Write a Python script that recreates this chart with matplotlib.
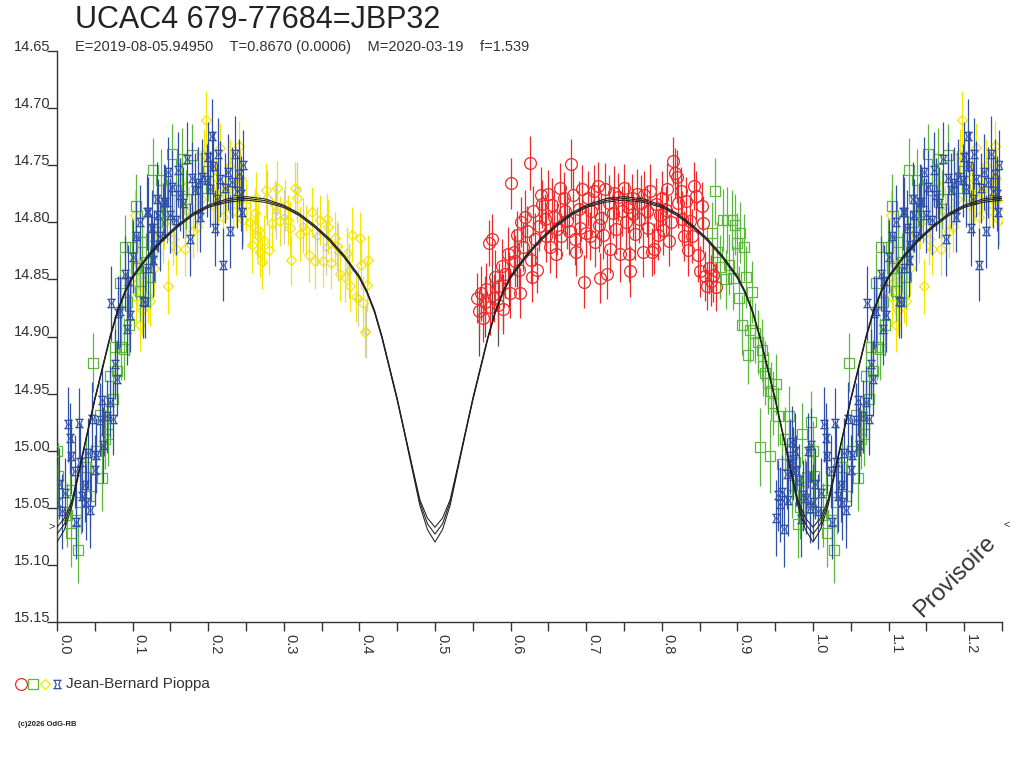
import numpy as np
import matplotlib
matplotlib.use("Agg")
import matplotlib.pyplot as plt
from matplotlib.path import Path
from matplotlib.lines import Line2D

plt.rcParams['font.family'] = ['Liberation Sans', 'DejaVu Sans']

# ---------------- data (phase, magnitude, error) ----------------
red = [
(0.556,14.866,0.022),(0.558,14.878,0.020),(0.561,14.862,0.024),(0.563,14.884,0.021),(0.566,14.870,0.023),
(0.568,14.858,0.022),(0.571,14.818,0.020),(0.573,14.874,0.025),(0.575,14.815,0.022),(0.578,14.866,0.021),
(0.580,14.848,0.024),(0.583,14.872,0.022),(0.585,14.856,0.020),(0.588,14.838,0.023),(0.590,14.876,0.022),
(0.593,14.845,0.021),(0.596,14.828,0.024),(0.599,14.862,0.022),(0.601,14.766,0.022),(0.604,14.826,0.020),
(0.606,14.834,0.023),(0.609,14.811,0.021),(0.611,14.842,0.024),(0.612,14.862,0.022),(0.614,14.800,0.022),
(0.617,14.822,0.021),(0.619,14.795,0.023),(0.622,14.808,0.022),(0.625,14.748,0.024),(0.627,14.833,0.021),
(0.628,14.848,0.022),(0.630,14.790,0.022),(0.632,14.815,0.023),(0.635,14.842,0.020),(0.637,14.803,0.022),
(0.640,14.776,0.024),(0.642,14.784,0.021),(0.645,14.797,0.022),(0.647,14.812,0.023),(0.650,14.775,0.021),
(0.652,14.822,0.022),(0.655,14.785,0.024),(0.658,14.795,0.022),(0.660,14.828,0.021),(0.662,14.806,0.023),
(0.665,14.770,0.022),(0.667,14.812,0.020),(0.670,14.779,0.023),(0.672,14.790,0.022),(0.675,14.799,0.024),
(0.677,14.808,0.021),(0.680,14.749,0.022),(0.682,14.776,0.023),(0.685,14.815,0.022),(0.687,14.826,0.021),
(0.690,14.788,0.024),(0.692,14.805,0.022),(0.695,14.771,0.021),(0.697,14.852,0.023),(0.700,14.809,0.022),
(0.702,14.779,0.024),(0.705,14.812,0.021),(0.707,14.790,0.022),(0.710,14.773,0.023),(0.712,14.817,0.022),
(0.715,14.768,0.021),(0.717,14.802,0.024),(0.718,14.849,0.022),(0.720,14.796,0.022),(0.722,14.811,0.021),
(0.725,14.771,0.023),(0.727,14.845,0.022),(0.730,14.783,0.024),(0.732,14.823,0.021),(0.735,14.792,0.022),
(0.737,14.774,0.023),(0.740,14.806,0.022),(0.742,14.778,0.021),(0.745,14.828,0.024),(0.747,14.790,0.022),
(0.750,14.770,0.021),(0.752,14.800,0.023),(0.755,14.787,0.022),(0.757,14.828,0.024),(0.758,14.843,0.022),
(0.760,14.779,0.021),(0.762,14.793,0.022),(0.765,14.810,0.023),(0.767,14.775,0.022),(0.770,14.797,0.021),
(0.772,14.783,0.024),(0.775,14.826,0.022),(0.777,14.776,0.021),(0.780,14.790,0.023),(0.782,14.805,0.022),
(0.785,14.773,0.024),(0.787,14.826,0.021),(0.790,14.823,0.022),(0.792,14.784,0.023),(0.795,14.811,0.022),
(0.797,14.794,0.021),(0.800,14.779,0.024),(0.802,14.807,0.022),(0.805,14.789,0.021),(0.807,14.771,0.023),
(0.810,14.816,0.022),(0.812,14.800,0.024),(0.815,14.746,0.021),(0.817,14.757,0.022),(0.820,14.760,0.023),
(0.822,14.783,0.022),(0.825,14.773,0.021),(0.827,14.797,0.024),(0.830,14.812,0.022),(0.832,14.781,0.021),
(0.835,14.824,0.023),(0.837,14.799,0.022),(0.840,14.812,0.024),(0.843,14.768,0.021),(0.845,14.777,0.022),
(0.848,14.829,0.023),(0.850,14.843,0.022),(0.853,14.786,0.021),(0.855,14.801,0.024),(0.857,14.847,0.022),
(0.860,14.856,0.021),(0.862,14.840,0.023),(0.865,14.851,0.022),(0.868,14.846,0.024),(0.872,14.857,0.021),
]

green = [
(0.000,15.000,0.026),(0.001,15.022,0.029),(0.013,15.056,0.028),(0.017,15.034,0.026),(0.019,15.072,0.030),
(0.025,15.061,0.027),(0.028,15.087,0.029),(0.032,15.045,0.028),(0.039,15.014,0.026),(0.044,15.040,0.029),
(0.048,14.923,0.026),(0.052,15.000,0.028),(0.057,14.969,0.027),(0.059,15.024,0.029),(0.063,14.990,0.026),
(0.068,14.985,0.028),(0.070,14.935,0.027),(0.074,14.955,0.026),(0.077,14.909,0.028),(0.080,14.930,0.027),
(0.083,14.853,0.026),(0.085,14.909,0.029),(0.088,14.911,0.027),(0.090,14.822,0.028),(0.092,14.870,0.026),
(0.095,14.890,0.027),(0.099,14.822,0.026),(0.104,14.786,0.028),(0.105,14.840,0.027),(0.110,14.860,0.026),
(0.112,14.817,0.028),(0.118,14.835,0.026),(0.123,14.848,0.027),(0.127,14.754,0.028),(0.132,14.800,0.026),
(0.138,14.763,0.027),(0.145,14.790,0.028),(0.152,14.740,0.026),(0.158,14.772,0.027),(0.165,14.745,0.028),
(0.170,14.780,0.026),(0.178,14.741,0.027),(0.190,14.770,0.028),(0.200,14.755,0.026),
(0.867,14.809,0.027),(0.870,14.773,0.029),(0.873,14.826,0.026),(0.877,14.839,0.028),(0.881,14.798,0.027),
(0.885,14.850,0.026),(0.886,14.798,0.029),(0.889,14.837,0.027),(0.893,14.798,0.026),(0.894,14.849,0.028),
(0.897,14.802,0.027),(0.900,14.818,0.026),(0.902,14.866,0.028),(0.904,14.809,0.027),(0.906,14.890,0.026),
(0.909,14.822,0.029),(0.911,14.848,0.027),(0.914,14.916,0.026),(0.917,14.894,0.028),(0.919,14.861,0.027),
(0.923,14.897,0.026),(0.927,14.905,0.028),(0.930,14.997,0.034),(0.932,14.912,0.027),(0.934,14.926,0.026),
(0.937,14.932,0.028),(0.940,14.941,0.027),(0.943,15.005,0.032),(0.945,14.948,0.026),(0.947,14.958,0.028),
(0.951,14.942,0.027),(0.954,14.970,0.026),(0.959,15.012,0.029),(0.963,14.990,0.028),(0.968,14.970,0.027),
(0.972,15.030,0.029),(0.976,15.010,0.028),(0.980,15.064,0.030),(0.983,15.049,0.028),(0.986,14.985,0.027),
(0.990,15.035,0.029),(0.992,15.023,0.028),(0.996,15.050,0.029),(0.998,14.975,0.027),
]

yellow = [
(0.103,14.794,0.022),(0.105,14.865,0.024),(0.106,14.853,0.022),(0.108,14.837,0.023),(0.110,14.890,0.024),
(0.112,14.877,0.022),(0.121,14.865,0.023),(0.123,14.869,0.022),(0.128,14.840,0.024),(0.132,14.811,0.022),
(0.136,14.810,0.023),(0.141,14.801,0.022),(0.147,14.856,0.024),(0.153,14.815,0.022),(0.158,14.823,0.023),
(0.163,14.766,0.022),(0.169,14.823,0.024),(0.175,14.790,0.022),(0.180,14.808,0.023),(0.185,14.804,0.022),
(0.190,14.780,0.024),(0.194,14.740,0.022),(0.197,14.710,0.025),(0.202,14.770,0.022),(0.206,14.785,0.023),
(0.210,14.760,0.022),(0.213,14.776,0.024),(0.216,14.735,0.022),(0.220,14.795,0.023),(0.224,14.770,0.022),
(0.229,14.751,0.024),(0.233,14.790,0.022),(0.237,14.780,0.023),(0.241,14.733,0.022),(0.242,14.761,0.024),
(0.246,14.798,0.022),(0.250,14.785,0.023),(0.255,14.800,0.022),(0.258,14.820,0.024),(0.262,14.792,0.022),
(0.263,14.779,0.023),(0.264,14.811,0.022),(0.266,14.807,0.024),(0.269,14.826,0.022),(0.271,14.835,0.023),
(0.274,14.816,0.022),(0.277,14.772,0.024),(0.280,14.824,0.022),(0.284,14.801,0.023),(0.288,14.785,0.022),
(0.291,14.770,0.024),(0.295,14.799,0.022),(0.302,14.785,0.023),(0.306,14.798,0.022),(0.308,14.805,0.024),
(0.310,14.833,0.022),(0.315,14.770,0.023),(0.317,14.779,0.022),(0.321,14.810,0.024),(0.330,14.807,0.022),
(0.333,14.829,0.023),(0.337,14.791,0.022),(0.341,14.834,0.024),(0.348,14.798,0.022),(0.352,14.834,0.023),
(0.357,14.797,0.022),(0.359,14.804,0.024),(0.363,14.836,0.022),(0.368,14.814,0.023),(0.370,14.821,0.022),
(0.374,14.845,0.024),(0.381,14.848,0.022),(0.383,14.827,0.023),(0.388,14.856,0.022),(0.390,14.811,0.024),
(0.396,14.865,0.022),(0.401,14.814,0.023),(0.402,14.837,0.022),(0.405,14.871,0.024),(0.407,14.896,0.022),
(0.410,14.855,0.023),(0.412,14.833,0.022),
]

blue = [
(0.000,15.045,0.033),(0.003,15.029,0.031),(0.006,15.053,0.033),(0.011,15.037,0.031),(0.015,14.977,0.033),
(0.017,14.989,0.031),(0.019,15.005,0.033),(0.024,15.018,0.032),(0.025,15.062,0.033),(0.029,14.976,0.031),
(0.030,15.010,0.033),(0.033,15.040,0.031),(0.037,15.030,0.032),(0.038,15.045,0.033),(0.041,15.002,0.031),
(0.043,15.052,0.033),(0.046,14.972,0.032),(0.050,15.017,0.031),(0.052,15.004,0.033),(0.057,14.973,0.032),
(0.059,14.956,0.031),(0.061,14.995,0.033),(0.066,14.970,0.032),(0.070,14.957,0.031),(0.072,14.871,0.033),
(0.074,14.972,0.032),(0.077,14.924,0.031),(0.079,14.937,0.033),(0.081,14.879,0.032),(0.083,14.878,0.031),
(0.090,14.845,0.033),(0.092,14.893,0.032),(0.094,14.851,0.031),(0.097,14.881,0.033),(0.100,14.830,0.032),
(0.105,14.812,0.031),(0.110,14.800,0.033),(0.114,14.869,0.032),(0.116,14.870,0.031),(0.119,14.791,0.033),
(0.120,14.840,0.032),(0.121,14.791,0.031),(0.125,14.805,0.033),(0.127,14.833,0.032),(0.128,14.820,0.031),
(0.132,14.780,0.033),(0.133,14.794,0.032),(0.136,14.812,0.031),(0.141,14.782,0.033),(0.143,14.782,0.032),
(0.147,14.756,0.031),(0.149,14.794,0.033),(0.152,14.769,0.032),(0.158,14.798,0.031),(0.160,14.754,0.033),
(0.163,14.776,0.032),(0.167,14.783,0.031),(0.172,14.745,0.033),(0.176,14.815,0.032),(0.178,14.761,0.031),
(0.182,14.772,0.033),(0.187,14.766,0.032),(0.189,14.795,0.031),(0.192,14.760,0.033),(0.198,14.763,0.032),
(0.200,14.743,0.031),(0.203,14.771,0.033),(0.205,14.724,0.032),(0.207,14.751,0.031),(0.209,14.805,0.033),
(0.211,14.780,0.032),(0.213,14.740,0.031),(0.216,14.762,0.033),(0.219,14.837,0.032),(0.222,14.770,0.031),
(0.226,14.756,0.033),(0.229,14.808,0.032),(0.232,14.765,0.031),(0.235,14.740,0.033),(0.238,14.773,0.032),
(0.241,14.758,0.031),(0.244,14.775,0.033),(0.245,14.791,0.032),(0.246,14.750,0.031),
(0.951,15.059,0.033),(0.954,15.039,0.031),(0.956,15.047,0.033),(0.959,15.036,0.032),(0.962,15.069,0.033),
(0.965,15.020,0.031),(0.967,15.043,0.032),(0.970,15.005,0.033),(0.972,14.992,0.031),(0.974,15.011,0.032),
(0.976,15.000,0.033),(0.978,15.017,0.031),(0.981,15.026,0.032),(0.984,15.060,0.033),(0.987,15.039,0.031),
(0.991,15.041,0.032),(0.994,15.000,0.033),(0.996,15.050,0.031),(0.998,14.995,0.032),
]

gray_light = [
(0.085,14.875,0.025),(0.098,14.858,0.025),(0.112,14.846,0.024),(0.125,14.828,0.025),(0.140,14.812,0.024),
(0.155,14.800,0.025),(0.170,14.790,0.024),(0.186,14.772,0.025),(0.278,14.778,0.024),(0.290,14.790,0.025),
(0.300,14.795,0.024),(0.318,14.772,0.025),(0.326,14.803,0.024),(0.344,14.812,0.025),(0.356,14.822,0.024),
(0.372,14.826,0.025),(0.386,14.842,0.024),(0.398,14.866,0.025),(0.409,14.895,0.024),
]

gray_dark = [
(0.045,15.020,0.025),(0.062,14.980,0.025),(0.108,14.835,0.024),(0.124,14.818,0.025),(0.140,14.790,0.024),
(0.166,14.772,0.025),(0.191,14.762,0.024),(0.558,14.892,0.025),(0.566,14.876,0.024),(0.575,14.860,0.025),
(0.583,14.884,0.024),(0.590,14.870,0.025),(0.598,14.850,0.024),(0.608,14.832,0.025),
]

# model light curves (three solutions), one cycle
curve_phase = [0.00,0.01,0.02,0.03,0.04,0.05,0.06,0.07,0.08,0.09,0.10,0.12,0.14,0.16,0.18,0.20,0.225,0.25,
               0.275,0.30,0.32,0.34,0.36,0.38,0.40,0.41,0.42,0.43,0.44,0.45,0.46,0.47,0.48,0.49,0.50,
               0.51,0.52,0.53,0.54,0.55,0.56,0.57,0.58,0.59,0.60,0.62,0.64,0.66,0.68,0.70,0.725,0.75,
               0.775,0.80,0.82,0.84,0.86,0.88,0.90,0.91,0.92,0.93,0.94,0.95,0.96,0.97,0.98,0.99,1.00]
curve_mid = [15.073,15.064,15.045,15.015,14.985,14.955,14.928,14.901,14.878,14.861,14.848,14.830,14.815,14.803,
             14.793,14.786,14.781,14.779,14.781,14.786,14.793,14.803,14.815,14.830,14.848,14.861,14.878,14.901,
             14.928,14.955,14.985,15.015,15.045,15.064,15.073,
             15.064,15.045,15.015,14.985,14.955,14.928,14.901,14.878,14.861,14.848,14.830,14.815,14.803,14.793,
             14.786,14.781,14.779,14.781,14.786,14.793,14.803,14.815,14.830,14.848,14.861,14.878,14.901,14.928,
             14.955,14.985,15.015,15.045,15.064,15.073]
curve_hi = [15.067,15.059,15.043,15.014,14.984,14.954,14.927,14.900,14.877,14.860,14.847,14.829,14.814,14.802,
            14.792,14.785,14.7795,14.7775,14.7795,14.785,14.792,14.802,14.814,14.829,14.847,14.860,14.877,14.900,
            14.927,14.954,14.984,15.014,15.043,15.059,15.067,
            15.059,15.043,15.014,14.984,14.954,14.927,14.900,14.877,14.860,14.847,14.829,14.814,14.802,14.792,
            14.785,14.7795,14.7775,14.7795,14.785,14.792,14.802,14.814,14.829,14.847,14.860,14.877,14.900,14.927,
            14.954,14.984,15.014,15.043,15.059,15.067]
curve_lo = [15.080,15.069,15.048,15.017,14.986,14.956,14.929,14.902,14.879,14.862,14.849,14.831,14.816,14.804,
            14.794,14.787,14.7825,14.7805,14.7825,14.787,14.794,14.804,14.816,14.831,14.849,14.862,14.879,14.902,
            14.929,14.956,14.986,15.017,15.048,15.069,15.080,
            15.069,15.048,15.017,14.986,14.956,14.929,14.902,14.879,14.862,14.849,14.831,14.816,14.804,14.794,
            14.787,14.7825,14.7805,14.7825,14.787,14.794,14.804,14.816,14.831,14.849,14.862,14.879,14.902,14.929,
            14.956,14.986,15.017,15.048,15.069,15.080]

yticks = [14.65,14.70,14.75,14.80,14.85,14.90,14.95,15.00,15.05,15.10,15.15]
xticks_major = [0.0,0.1,0.2,0.3,0.4,0.5,0.6,0.7,0.8,0.9,1.0,1.1,1.2]

title = "UCAC4 679-77684=JBP32"
subtitle = "E=2019-08-05.94950    T=0.8670 (0.0006)    M=2020-03-19    f=1.539"
observer = "Jean-Bernard Pioppa"

# ---------------- styling ----------------
c_red = '#ee2a2a'
c_green = '#5cb83c'
c_yellow = '#f5e600'
c_blue = '#3050a8'
c_lgray = '#c8c8c8'
c_dgray = '#505050'
c_axis = '#333333'

hour = Path([(-1, 1), (1, 1), (0.7, 1), (0.3, 0), (0.7, -1), (1, -1), (-1, -1), (-0.7, -1), (-0.3, 0), (-0.7, 1)],
            [Path.MOVETO, Path.LINETO, Path.MOVETO, Path.LINETO, Path.LINETO,
             Path.MOVETO, Path.LINETO, Path.MOVETO, Path.LINETO, Path.LINETO])


def extend(data):
    a = np.array(data, dtype=float)
    p, m, e = a[:, 0], a[:, 1], a[:, 2]
    mask = p < 0.26
    return (np.concatenate([p, p[mask] + 1]), np.concatenate([m, m[mask]]),
            np.concatenate([e, e[mask]]))


fig = plt.figure(figsize=(10.24, 7.68), dpi=100)
ax = fig.add_axes([57/1024, 1-622/768, (1002-57)/1024, (622-51)/768])

series = [
    (gray_light, c_lgray, 'D', 4.0, 1.0),
    (gray_dark, c_dgray, 'none', 0, 1.5),
    (yellow, c_yellow, 'D', 5.5, 2.0),
    (green, c_green, 's', 6.5, 2.5),
    (red, c_red, 'o', 8.5, 2.6),
    (blue, c_blue, hour, 6.0, 3.0),
]
for data, col, mk, ms, z in series:
    p, m, e = extend(data)
    ax.errorbar(p, m, yerr=e, linestyle='none', marker=mk, ms=ms, mfc='none', mec=col,
                mew=0.9, ecolor=col, elinewidth=0.9, capsize=0, zorder=z)

cp = np.array(curve_phase)
for cm in (curve_hi, curve_mid, curve_lo):
    cm = np.array(cm)
    ax.plot(np.concatenate([cp, cp[1:] + 1]), np.concatenate([cm, cm[1:]]),
            color='#202020', lw=0.75, zorder=5)

ax.set_xlim(0, 1.25)
ax.set_ylim(15.15, 14.65)
for s in ('top', 'right'):
    ax.spines[s].set_visible(False)
for s in ('left', 'bottom'):
    ax.spines[s].set_color(c_axis)
    ax.spines[s].set_linewidth(1.0)

ax.set_yticks(yticks)
ax.set_yticklabels(["%.2f" % v for v in yticks])
ax.tick_params(axis='y', direction='out', length=7.2, width=1, color=c_axis,
               labelsize=10.5, labelcolor=c_axis, pad=-2.5)
for lab in ax.get_yticklabels():
    lab.set_va('baseline')

ax.set_xticks(xticks_major)
ax.set_xticks(np.arange(0.05, 1.26, 0.1), minor=True)
ax.set_xticklabels(["%.1f" % v for v in xticks_major], rotation=270, ha='left', va='top')
ax.tick_params(axis='x', which='both', direction='out', length=6.5, width=1, color=c_axis,
               labelsize=10.5, labelcolor=c_axis, pad=2)

# texts
fig.text(75/1024, 1-20/768, title, fontsize=22, color='#222222', va='center', ha='left')
fig.text(75/1024, 1-47/768, subtitle, fontsize=10.5, color='#333333', va='center', ha='left')
fig.text(955/1024, 1-577/768, "Provisoire", fontsize=17, color='#333333', rotation=45,
         ha='center', va='center')
fig.text(52/1024, 1-527/768, ">", fontsize=8, color='#333333', ha='center', va='center')
fig.text(1007/1024, 1-525/768, "<", fontsize=8, color='#333333', ha='center', va='center')

ly = 1-684/768
for xpx, col, mk, ms in ((21, c_red, 'o', 8.5), (33, c_green, 's', 6.5), (45, c_yellow, 'D', 5.5), (57, c_blue, hour, 6.0)):
    fig.add_artist(Line2D([xpx/1024], [ly], marker=mk, ms=ms, mfc='none', mec=col, mew=0.9,
                          linestyle='none', transform=fig.transFigure))
fig.text(66/1024, ly, observer, fontsize=11, color='#333333', va='center', ha='left')
fig.text(18/1024, 1-725/768, "(c)2026 OdG-RB", fontsize=5.5, color='#222222', va='center',
         ha='left', fontweight='bold')

fig.savefig("out.png", dpi=100)
